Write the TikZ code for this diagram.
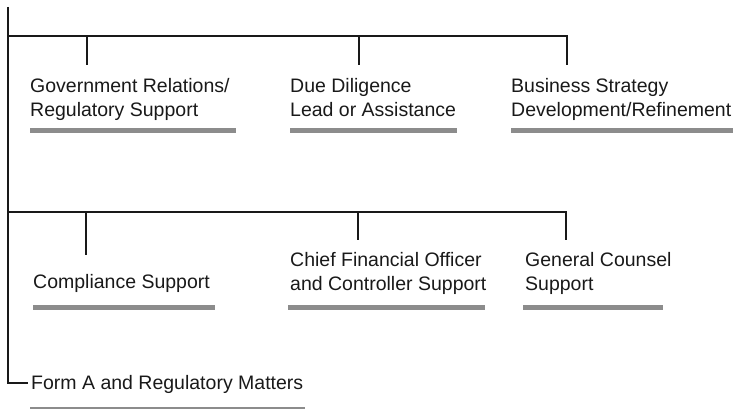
\documentclass[tikz,border=0pt]{standalone}
\usepackage{fontspec}
\setmainfont{Liberation Sans}
\usetikzlibrary{positioning}

\begin{document}
\begin{tikzpicture}[x=1pt, y=-1pt,
    main/.style = {anchor=base west, inner sep=0pt, align=left, text=black!90, font=\fontsize{19.5}{24}\selectfont},
    link/.style = {line width=2.4pt, black!90},
    bar/.style = {line width=5pt, black!45},
    thinbar/.style = {line width=1.3pt, black!45}]
    \useasboundingbox (0,0) rectangle (733,409);
    % Nodes (base = last line)
    \node[main] (gov) at (30,117) {Government Relations/\\Regulatory Support};
    \node[main] (due) at (290,117) {Due Diligence\\Lead or Assistance};
    \node[main] (biz) at (511,117) {Business Strategy\\Development/Refinement};
    \node[main] (comp) at (33,288) {Compliance Support};
    \node[main] (cfo) at (290,290) {Chief Financial Officer\\and Controller Support};
    \node[main] (gc) at (525,290) {General Counsel\\Support};
    \node[main] (forma) at (31,389) {Form A and Regulatory Matters};
    % Joints
    \coordinate (top) at (8,7);
    \coordinate (row1) at (8,36);
    \coordinate (row2) at (8,212);
    \coordinate (foot) at (8,383);
    \coordinate (forma-in) at (28,383);
    \coordinate (gov-in) at (87,65);
    \coordinate (due-in) at (359,65);
    \coordinate (biz-in) at (567,65);
    \coordinate (comp-in) at (86,255);
    \coordinate (cfo-in) at (358,240);
    \coordinate (gc-in) at (566,240);
    % Edges
    \draw[link] (top) -- (foot) -- (forma-in);
    \draw[link] (row1) -| (biz-in);
    \draw[link] (row1 -| gov-in) -- (gov-in);
    \draw[link] (row1 -| due-in) -- (due-in);
    \draw[link] (row2) -| (gc-in);
    \draw[link] (row2 -| comp-in) -- (comp-in);
    \draw[link] (row2 -| cfo-in) -- (cfo-in);
    % Bars
    \draw[bar] (30,131) -- (236,131);
    \draw[bar] (290,131) -- (457,131);
    \draw[bar] (511,131) -- (733,131);
    \draw[bar] (33,307) -- (215,307);
    \draw[bar] (288,307) -- (485,307);
    \draw[bar] (523,307) -- (663,307);
    \draw[thinbar] (30,408) -- (305,408);
\end{tikzpicture}
\end{document}
